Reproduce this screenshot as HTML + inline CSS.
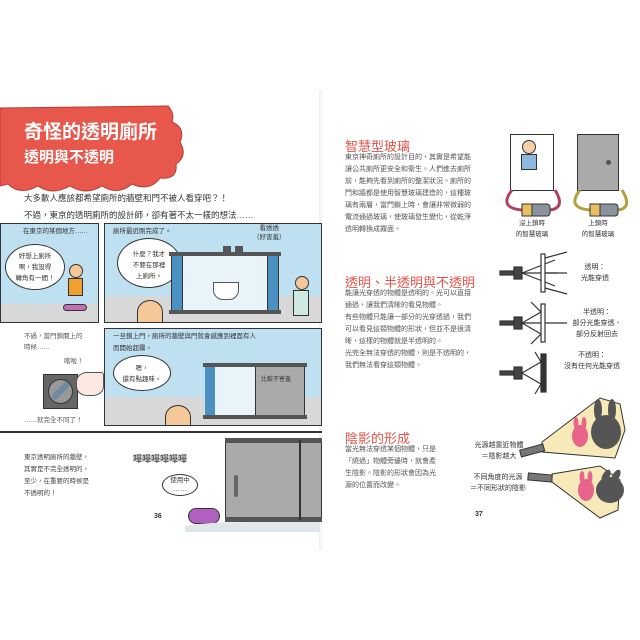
<!DOCTYPE html>
<html><head><meta charset="utf-8"><style>
*{margin:0;padding:0;box-sizing:border-box}
body{width:640px;height:640px;background:#fff;position:relative;overflow:hidden;font-family:"Liberation Sans","Noto Sans CJK TC",sans-serif;color:#333}
.a{position:absolute}
.t{font-size:7px;line-height:12px;color:#555;white-space:nowrap}
.h{color:#e0554a;font-size:13px;font-weight:normal;white-space:nowrap}
.pn{border:1.5px solid #333;background:#bfe0f0;overflow:hidden}
.bub{background:#fff;border:1.3px solid #333;border-radius:50%;font-size:6.5px;line-height:11px;text-align:center;color:#333}
.lab{font-size:7px;line-height:11px;text-align:center;color:#333;white-space:nowrap}
</style></head><body>
<div class="a" style="left:319px;top:90px;width:4px;height:460px;background:linear-gradient(90deg,#eee,#fff)"></div>

<svg class="a" style="left:0;top:100px" width="190" height="95">
<path d="M0 8 L168 6 Q175 14 172 22 Q186 28 180 42 Q188 56 176 64 Q178 80 160 78 Q150 92 132 84 Q118 96 102 86 Q86 96 70 86 Q52 96 38 86 Q20 96 8 84 L0 86 Z" fill="#e8574b" stroke="#b83a30" stroke-width="1"/>
</svg>
<div class="a" style="left:24px;top:117px;color:#fff;font-size:19px;font-weight:bold;white-space:nowrap">奇怪的透明廁所</div>
<div class="a" style="left:24px;top:146px;color:#fff;font-size:15px;font-weight:bold;white-space:nowrap">透明與不透明</div>
<div class="a t" style="left:24px;top:190px;font-size:8.5px;line-height:17px;color:#333">大多數人應該都希望廁所的牆壁和門不被人看穿吧？！<br>不過，東京的透明廁所的設計師，卻有著不太一樣的想法……</div>

<div class="a pn" style="left:0;top:223px;width:99px;height:100px">
 <div class="a" style="left:0;top:80px;width:99px;height:20px;background:#d8d8d8"></div>
 <div class="a lab" style="left:22px;top:2px;font-size:6.5px">在東京的某個地方……</div>
 <div class="a bub" style="left:4px;top:20px;width:60px;height:46px;padding-top:6px">好想上廁所<br>啊，我設得<br>轉角有一間！</div>
 <div class="a" style="left:68px;top:40px;width:14px;height:14px;border-radius:50%;background:#f5c89a;border:1px solid #333"></div>
 <div class="a" style="left:67px;top:54px;width:15px;height:18px;background:#f0a030;border:1px solid #333"></div>
 <div class="a" style="left:62px;top:80px;width:24px;height:7px;border-radius:4px;background:#c070b0;border:1px solid #333"></div>
</div>
<div class="a pn" style="left:104px;top:223px;width:218px;height:100px">
 <div class="a" style="left:0;top:72px;width:218px;height:28px;background:#d8d8d8"></div>
 <div class="a lab" style="left:8px;top:2px;font-size:6.5px">廁所最近剛完成了。</div>
 <div class="a lab" style="left:148px;top:0px;font-size:6.5px;line-height:9px">看透透<br>（好害羞）</div>
 <div class="a bub" style="left:12px;top:14px;width:64px;height:50px;padding-top:10px">什麼？我才<br>不要在那裡<br>上廁所。</div>
 <div class="a" style="left:66px;top:30px;width:108px;height:58px;background:#e8f4fa;border:1.3px solid #333"></div>
 <div class="a" style="left:66px;top:30px;width:12px;height:58px;background:#4a90c0;border:1px solid #333"></div>
 <div class="a" style="left:162px;top:30px;width:12px;height:58px;background:#4a90c0;border:1px solid #333"></div>
 <div class="a" style="left:64px;top:28px;width:112px;height:4px;background:#555"></div>
 <div class="a" style="left:64px;top:86px;width:112px;height:4px;background:#555"></div>
 <div class="a" style="left:118px;top:22px;width:8px;height:7px;background:#555"></div><div class="a" style="left:130px;top:22px;width:8px;height:7px;background:#555"></div>
 <div class="a" style="left:108px;top:58px;width:26px;height:18px;background:#fff;border:1px solid #555;border-radius:0 0 10px 10px"></div>
 <div class="a" style="left:32px;top:76px;width:26px;height:24px;border-radius:50% 50% 0 0;background:#f5c89a;border:1px solid #333"></div>
 <div class="a" style="left:190px;top:52px;width:14px;height:14px;border-radius:50%;background:#f5c89a;border:1px solid #333"></div>
 <div class="a" style="left:188px;top:66px;width:16px;height:26px;background:#cde8e0;border:1px solid #333"></div>
</div>
<div class="a t" style="left:24px;top:331px;font-size:6.5px;line-height:11px">不過，當門鎖關上的<br>時候……</div>
<div class="a t" style="left:64px;top:356px;font-size:6.5px">喀啦！</div>
<div class="a" style="left:43px;top:374px;width:35px;height:35px;background:#666;border:1.5px solid #333"></div>
<div class="a" style="left:48px;top:379px;width:25px;height:25px;border-radius:50%;background:#999;border:1.5px solid #333"></div>
<div class="a" style="left:50px;top:388px;width:21px;height:6px;background:#6b8aa0;transform:rotate(-45deg)"></div>
<div class="a" style="left:76px;top:372px;width:28px;height:24px;background:#fce8e0;border:1px solid #555;border-radius:40% 10% 40% 40%"></div>
<div class="a t" style="left:24px;top:415px;font-size:6.5px">……就完全不同了！</div>
<div class="a pn" style="left:104px;top:328px;width:218px;height:98px">
 <div class="a" style="left:0;top:68px;width:218px;height:30px;background:#d8d8d8"></div>
 <div class="a lab" style="left:8px;top:2px;font-size:6.5px;text-align:left;line-height:12px">一旦鎖上門，廁所的牆壁與門就會感應到裡面有人<br>而開始起霧。</div>
 <div class="a bub" style="left:8px;top:26px;width:58px;height:36px;padding-top:7px">嗯，<br>還有點趣味。</div>
 <div class="a" style="left:100px;top:36px;width:100px;height:52px;background:#e8f4fa;border:1.3px solid #333"></div>
 <div class="a" style="left:100px;top:36px;width:10px;height:52px;background:#4a90c0"></div>
 <div class="a" style="left:150px;top:36px;width:50px;height:52px;background:#aaa;border:1px solid #333"></div>
 <div class="a" style="left:98px;top:34px;width:104px;height:4px;background:#555"></div>
 <div class="a" style="left:98px;top:86px;width:104px;height:4px;background:#555"></div>
 <div class="a lab" style="left:156px;top:46px;font-size:6px">比較不害羞</div>
 <div class="a" style="left:60px;top:76px;width:26px;height:24px;border-radius:50% 50% 0 0;background:#f5c89a;border:1px solid #333"></div>
</div>
<div class="a" style="left:0;top:431px;width:322px;height:1.5px;background:#333"></div>

<div class="a t" style="left:24px;top:452px;font-size:6.5px;line-height:12px;color:#444">東京透明廁所的牆壁，<br>其實是不完全透明的，<br>至少，在重要的時候是<br>不透明的！</div>
<div class="a" style="left:133px;top:452px;font-size:9px;font-weight:bold;color:#555;white-space:nowrap">嘩嘩嘩嘩嘩嘩</div>
<div class="a bub" style="left:162px;top:474px;width:36px;height:22px;padding-top:1px;font-size:6.5px;line-height:9px">使用中<br>……</div>
<div class="a" style="left:188px;top:508px;width:32px;height:16px;border-radius:8px;background:#b060c0;border:1.3px solid #333"></div>
<div class="a" style="left:185px;top:522px;width:135px;height:10px;background:#e0e6ea;border-radius:50% 0 0 0"></div>
<div class="a" style="left:225px;top:440px;width:97px;height:82px;background:#aaa;border:1.5px solid #333"></div>
<div class="a" style="left:225px;top:438px;width:97px;height:5px;background:#555"></div>
<div class="a" style="left:225px;top:517px;width:97px;height:5px;background:#555"></div>
<div class="a" style="left:299px;top:440px;width:1.5px;height:80px;background:#333"></div>
<div class="a" style="left:234px;top:475px;width:4px;height:22px;background:#666;border-radius:2px"></div>
<div class="a" style="left:154px;top:513px;font-size:7px;font-weight:bold;color:#333">36</div>

<div class="a h" style="left:345px;top:136px">智慧型玻璃</div>
<div class="a t" style="left:345px;top:152px">東京神奇廁所的設計目的，其實是希望能<br>讓公共廁所更安全和衛生。人們進去廁所<br>前，能夠先看到廁所的整潔狀況。廁所的<br>門和牆都是使用智慧玻璃建造的，這種玻<br>璃有兩層，當門鎖上時，會讓非常微弱的<br>電流通過玻璃，使玻璃發生變化，從乾淨<br>透明轉換成霧面。</div>
<div class="a" style="left:510px;top:134px;width:44px;height:57px;background:#fff;border:1.5px solid #333"></div>
<div class="a" style="left:522px;top:140px;width:14px;height:14px;border-radius:50%;background:#f5d0a8;border:1px solid #333"></div>
<div class="a" style="left:521px;top:154px;width:16px;height:16px;background:#8cb8e0;border:1px solid #333"></div>
<div class="a" style="left:577px;top:134px;width:42px;height:57px;background:#aaa;border:1.5px solid #333"></div>
<div class="a" style="left:606px;top:160px;width:5px;height:5px;border-radius:50%;background:#555"></div>
<svg class="a" style="left:500px;top:180px" width="130" height="40">
<path d="M12 10 Q-2 28 22 30" fill="none" stroke="#b04060" stroke-width="3"/><path d="M55 10 Q66 28 50 30" fill="none" stroke="#b04060" stroke-width="3"/>
<path d="M80 10 Q66 28 90 30" fill="none" stroke="#b0a040" stroke-width="3"/><path d="M122 10 Q133 28 118 30" fill="none" stroke="#b0a040" stroke-width="3"/>
<rect x="22" y="24" width="28" height="12" rx="3" fill="#8a939c" stroke="#333"/><rect x="22" y="24" width="10" height="12" fill="#e8c060" stroke="#333"/>
<rect x="90" y="24" width="28" height="12" rx="3" fill="#8a939c" stroke="#333"/><rect x="90" y="24" width="10" height="12" fill="#e8c060" stroke="#333"/>
</svg>
<div class="a lab" style="left:510px;top:218px;width:44px;font-size:6.5px">沒上鎖時<br>的智慧玻璃</div>
<div class="a lab" style="left:576px;top:218px;width:44px;font-size:6.5px">上鎖時<br>的智慧玻璃</div>

<div class="a h" style="left:345px;top:272px">透明、半透明與不透明</div>
<div class="a t" style="left:345px;top:288px">能讓光穿透的物體是透明的。光可以直接<br>通過，讓我們清晰的看見物體。<br>有些物體只能讓一部分的光穿透過，我們<br>可以看見這類物體的形狀，但並不是很清<br>晰，這樣的物體就是半透明的。<br>光完全無法穿透的物體，則是不透明的，<br>我們無法看穿這類物體。</div>
<svg class="a" style="left:495px;top:250px" width="80" height="180" stroke="#333" fill="none" stroke-width="1.2">
<g><rect x="5" y="21" width="14" height="4" fill="#444"/><rect x="19" y="17" width="8" height="12" fill="#444"/>
<line x1="27" y1="23" x2="60" y2="10"/><line x1="27" y1="23" x2="62" y2="23"/><line x1="27" y1="23" x2="60" y2="36"/>
<rect x="46" y="4" width="4" height="38" fill="#fff"/><line x1="50" y1="8" x2="72" y2="2"/><line x1="50" y1="23" x2="72" y2="23"/><line x1="50" y1="38" x2="72" y2="44"/></g>
<g transform="translate(0,50)"><rect x="5" y="21" width="14" height="4" fill="#444"/><rect x="19" y="17" width="8" height="12" fill="#444"/>
<line x1="27" y1="23" x2="46" y2="12"/><line x1="27" y1="23" x2="46" y2="23"/><line x1="27" y1="23" x2="46" y2="34"/>
<rect x="46" y="4" width="4" height="38" fill="#fff"/><line x1="46" y1="12" x2="36" y2="2"/><line x1="46" y1="34" x2="36" y2="44"/><line x1="50" y1="23" x2="72" y2="23"/></g>
<g transform="translate(0,100)"><rect x="5" y="21" width="14" height="4" fill="#444"/><rect x="19" y="17" width="8" height="12" fill="#444"/>
<line x1="27" y1="23" x2="46" y2="12"/><line x1="27" y1="23" x2="46" y2="34"/><line x1="46" y1="12" x2="40" y2="2"/><line x1="46" y1="34" x2="40" y2="44"/>
<rect x="46" y="4" width="5" height="38" fill="#333"/></g>
</svg>
<div class="a lab" style="left:570px;top:262px;width:50px">透明：<br>光能穿透</div>
<div class="a lab" style="left:565px;top:307px;width:64px">半透明：<br>部分光能穿透，<br>部分反射回去</div>
<div class="a lab" style="left:560px;top:350px;width:64px">不透明：<br>沒有任何光能穿透</div>

<div class="a h" style="left:345px;top:428px">陰影的形成</div>
<div class="a t" style="left:345px;top:444px">當光無法穿透某個物體，只是<br>「繞過」物體旁邊時，就會產<br>生陰影。陰影的形狀會因為光<br>源的位置而改變。</div>
<div class="a lab" style="left:466px;top:440px;width:66px">光源越靠近物體<br>＝陰影越大</div>
<div class="a lab" style="left:462px;top:472px;width:72px">不同角度的光源<br>＝不同形狀的陰影</div>
<svg class="a" style="left:500px;top:390px" width="140" height="140" stroke="#333" stroke-width="1">
<polygon points="42,52 100,8 120,14 125,40 115,68 42,62" fill="#f8eab8"/>
<polygon points="52,84 100,76 120,90 118,120 100,128 52,92" fill="#f8eab8"/>
<g fill="#555" stroke="none"><ellipse cx="106" cy="42" rx="15" ry="17"/><ellipse cx="98" cy="20" rx="4" ry="11"/><ellipse cx="112" cy="20" rx="4" ry="11"/>
<ellipse cx="110" cy="100" rx="14" ry="13"/><ellipse cx="106" cy="86" rx="3.5" ry="7" transform="rotate(30 106 86)"/><ellipse cx="116" cy="86" rx="3.5" ry="7" transform="rotate(30 116 86)"/></g>
<g fill="#e8648a" stroke="none"><ellipse cx="80" cy="46" rx="8" ry="11"/><ellipse cx="76" cy="33" rx="2.5" ry="6"/><ellipse cx="84" cy="33" rx="2.5" ry="6"/>
<ellipse cx="86" cy="100" rx="8" ry="11"/><ellipse cx="82" cy="87" rx="2.5" ry="6"/><ellipse cx="90" cy="87" rx="2.5" ry="6"/></g>
<rect x="20" y="57" width="24" height="7" fill="#777" transform="rotate(-15 32 60)"/>
<rect x="28" y="84" width="24" height="7" fill="#777" transform="rotate(5 40 88)"/>
</svg>
<div class="a" style="left:475px;top:511px;font-size:7px;font-weight:bold;color:#333">37</div>
</body></html>
